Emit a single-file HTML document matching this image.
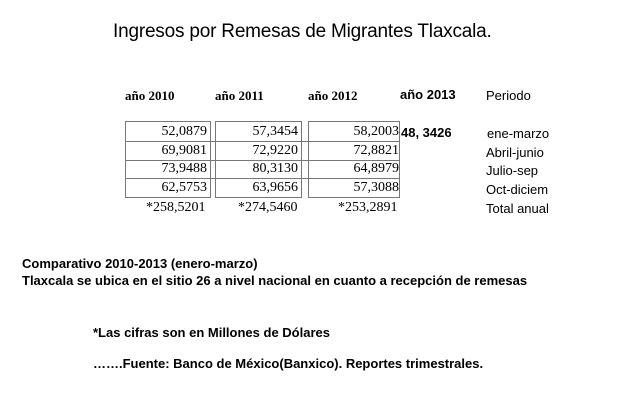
<!DOCTYPE html>
<html><head><meta charset="utf-8"><style>
body{margin:0;width:620px;height:420px;background:#fff;position:relative;overflow:hidden;color:#000}
.a{position:absolute;white-space:nowrap}
.s{font-family:"Liberation Serif",serif;font-size:13px}
.h{font-family:"Liberation Sans",sans-serif;font-size:13px}
.b{position:absolute;border:1px solid #777;box-sizing:border-box}
.r{position:absolute;border-top:1px solid #777}
.v{position:absolute;text-align:right;font-family:"Liberation Serif",serif;font-size:14px;line-height:18.7px}
.k{font-weight:bold}
</style></head><body>
<div class="a h" style="left:113px;top:21px;font-size:19px;letter-spacing:-0.2px">Ingresos por Remesas de Migrantes Tlaxcala.</div>
<div class="a s k" style="left:125px;top:88px">año 2010</div>
<div class="a s k" style="left:215px;top:88px">año 2011</div>
<div class="a s k" style="left:308px;top:88px">año 2012</div>
<div class="a h k" style="left:400px;top:87px">año 2013</div>
<div class="a h" style="left:486px;top:88px">Periodo</div>
<div class="b" style="left:125px;top:121px;width:86px;height:77px"></div>
<div class="b" style="left:215px;top:121px;width:87px;height:77px"></div>
<div class="b" style="left:308px;top:121px;width:92px;height:77px"></div>
<div class="r" style="left:125px;top:141px;width:275px"></div>
<div class="r" style="left:125px;top:160px;width:275px"></div>
<div class="r" style="left:125px;top:178px;width:275px"></div>
<div class="v" style="left:125px;width:82px;top:123px">52,0879<br>69,9081<br>73,9488<br>62,5753</div>
<div class="v" style="left:215px;width:83px;top:123px">57,3454<br>72,9220<br>80,3130<br>63,9656</div>
<div class="v" style="left:308px;width:91px;top:123px">58,2003<br>72,8821<br>64,8979<br>57,3088</div>
<div class="a h k" style="left:401px;top:125px">48, 3426</div>
<div class="a h" style="left:487px;top:126px">ene-marzo</div>
<div class="a h" style="left:486px;top:145px">Abril-junio</div>
<div class="a h" style="left:486px;top:163px">Julio-sep</div>
<div class="a h" style="left:486px;top:182px">Oct-diciem</div>
<div class="a h" style="left:486px;top:201px">Total anual</div>
<div class="a s" style="left:146px;top:200px;font-size:14px">*258,5201</div>
<div class="a s" style="left:238px;top:200px;font-size:14px">*274,5460</div>
<div class="a s" style="left:338px;top:200px;font-size:14px">*253,2891</div>
<div class="a h k" style="left:22px;top:256px">Comparativo 2010-2013 (enero-marzo)</div>
<div class="a h k" style="left:22px;top:273px">Tlaxcala se ubica en el sitio 26 a nivel nacional en cuanto a recepción de remesas</div>
<div class="a h k" style="left:93px;top:325px">*Las cifras son en Millones de Dólares</div>
<div class="a h k" style="left:93px;top:356px">…….Fuente: Banco de México(Banxico). Reportes trimestrales.</div>
</body></html>
